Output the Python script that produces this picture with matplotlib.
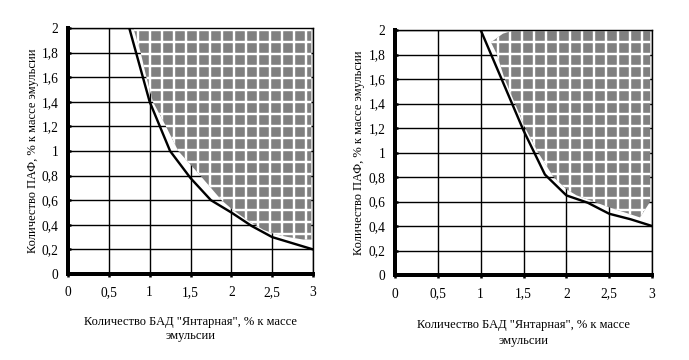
import numpy as np
import matplotlib
matplotlib.use("Agg")
import matplotlib.pyplot as plt
from matplotlib.patches import Polygon

# ===== Data =====
x_ticks = [0, 0.5, 1, 1.5, 2, 2.5, 3]
x_tick_labels = ["0", "0,5", "1", "1,5", "2", "2,5", "3"]
y_ticks = [0, 0.2, 0.4, 0.6, 0.8, 1.0, 1.2, 1.4, 1.6, 1.8, 2.0]
y_tick_labels = ["0", "0,2", "0,4", "0,6", "0,8", "1", "1,2", "1,4", "1,6", "1,8", "2"]

# boundary curves
curve1_x = [0.75, 1.0, 1.25, 1.5, 1.75, 2.0, 2.25, 2.5, 2.75, 3.0]
curve1_y = [2.0, 1.4, 1.0, 0.78, 0.6, 0.5, 0.39, 0.3, 0.25, 0.2]
curve2_x = [1.0, 1.5, 1.75, 2.0, 2.25, 2.5, 2.75, 3.0]
curve2_y = [2.0, 1.18, 0.82, 0.65, 0.59, 0.5, 0.455, 0.4]

# shaded (hatched) zones
zone1_x = [0.80, 0.89, 0.96, 1.04, 1.20, 1.35, 1.62, 1.88, 2.02, 2.19, 2.39, 2.55, 2.70, 2.88, 2.98, 2.98]
zone1_y = [2.0, 1.8, 1.6, 1.4, 1.2, 1.0, 0.8, 0.6, 0.52, 0.44, 0.36, 0.32, 0.30, 0.28, 0.28, 2.0]
zone2_x = [1.12, 1.26, 1.40, 2.98, 2.98, 2.86, 2.51, 2.12, 2.00, 1.85, 1.67, 1.52, 1.40, 1.28, 1.19]
zone2_y = [1.90, 1.97, 2.0, 2.0, 0.60, 0.47, 0.55, 0.65, 0.70, 0.80, 1.0, 1.2, 1.4, 1.6, 1.8]

y_label = "Количество ПАФ, % к массе эмульсии"
x_label = "Количество БАД \"Янтарная\", % к массе\nэмульсии"

# ===== Style =====
plt.rcParams['font.family'] = ['Liberation Serif', 'DejaVu Serif']
plt.rcParams['hatch.linewidth'] = 2.4

DPI = 72
fig = plt.figure(figsize=(689 / DPI, 360 / DPI), dpi=DPI)

panels = [
    # rect, curve, zone, xlabel y, ylabel x, linespacing
    ([68 / 689, 86 / 360, 245 / 689, 246 / 360], (curve1_x, curve1_y), (zone1_x, zone1_y), -0.17, -0.118, 1.25),
    ([395 / 689, 85 / 360, 257 / 689, 245 / 360], (curve2_x, curve2_y), (zone2_x, zone2_y), -0.18, -0.118, 1.45),
]

for rect, (cx, cy), (zx, zy), xl_y, yl_x, lsp in panels:
    ax = fig.add_axes(rect)
    ax.set_xlim(0, 3)
    ax.set_ylim(0, 2)

    ax.set_xticks(x_ticks)
    ax.set_xticklabels(x_tick_labels)
    ax.set_yticks(y_ticks)
    ax.set_yticklabels(y_tick_labels)
    ax.tick_params(axis='both', direction='inout', length=5, width=2.5,
                   labelsize=13.5, colors='black')
    ax.tick_params(axis='x', pad=10)
    ax.tick_params(axis='y', pad=7)

    ax.grid(True, color='black', linewidth=1.4)
    ax.set_axisbelow(True)

    for side in ('left', 'bottom'):
        ax.spines[side].set_linewidth(4)
    for side in ('top', 'right'):
        ax.spines[side].set_linewidth(1.4)

    zone = Polygon(np.column_stack([zx, zy]), closed=True,
                   facecolor='#808080', edgecolor='white', hatch='+',
                   linewidth=0, zorder=2)
    ax.add_patch(zone)

    ax.plot(cx, cy, color='black', linewidth=2.4, zorder=3, solid_joinstyle='round')

    ax.set_xlabel(x_label, fontsize=12.5, linespacing=lsp)
    ax.xaxis.set_label_coords(0.5, xl_y)
    ax.set_ylabel(y_label, fontsize=12.5)
    ax.yaxis.set_label_coords(yl_x, 0.5)

fig.savefig("out.png", dpi=DPI, facecolor='white')
